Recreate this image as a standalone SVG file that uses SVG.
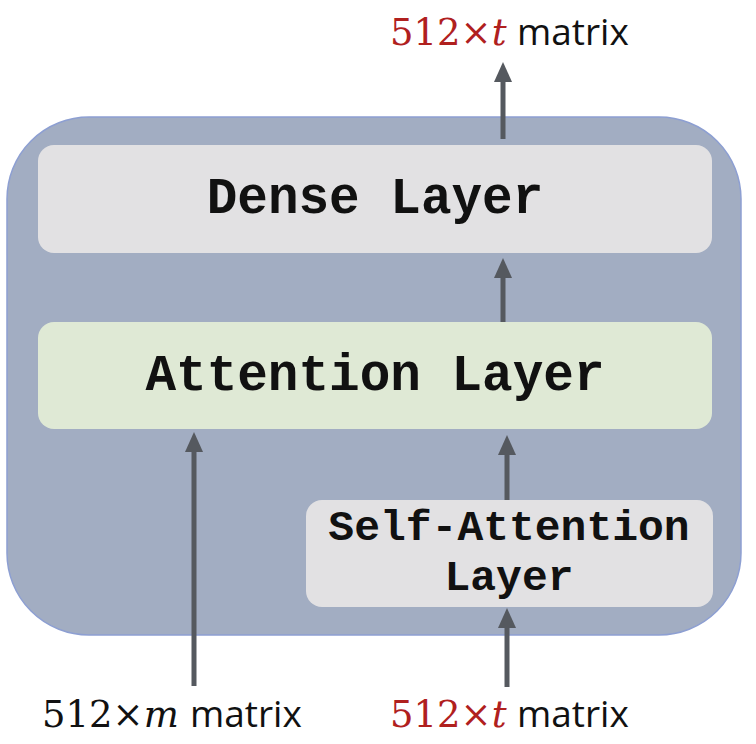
<svg xmlns="http://www.w3.org/2000/svg" width="756" height="744" viewBox="0 0 756 744">
<style>
.box{fill:#e2e1e3}
.green{fill:#dfe9d5}
.lbl{font-family:"Liberation Mono","Courier New",monospace;font-weight:bold;fill:#111;text-anchor:middle}
.edge{stroke:#55595f;stroke-width:5;fill:none}
.num{font-family:"DejaVu Serif",serif;font-size:37px}
.it{font-style:italic}
.word{font-family:"Open Sans","Liberation Sans",sans-serif;font-size:37px;fill:#111}
</style>
<defs>
<marker id="ah" markerUnits="userSpaceOnUse" markerWidth="20" markerHeight="18" refX="2" refY="9" orient="auto">
<path d="M0,0 L20,9 L0,18 z" fill="#55595f"/>
</marker>
</defs>
<rect x="0" y="0" width="756" height="744" fill="#ffffff"/>
<g id="container">
<rect x="7" y="117" width="734" height="518" rx="82" ry="82" fill="#a2adc2" stroke="#8d9fd2" stroke-width="1.5"/>
</g>
<g id="dense">
<rect class="box" x="38" y="145" width="674" height="108" rx="16"/>
<text class="lbl" x="375" y="213" font-size="51">Dense Layer</text>
</g>
<g id="attention">
<rect class="green" x="38" y="322" width="674" height="107" rx="16"/>
<text class="lbl" x="375" y="390" font-size="51">Attention Layer</text>
</g>
<g id="selfattention">
<rect class="box" x="306" y="500" width="407" height="107" rx="16"/>
<text class="lbl" x="509" y="540" font-size="43">Self-Attention</text>
<text class="lbl" x="509" y="590" font-size="43">Layer</text>
</g>
<g id="connectors">
<line class="edge" x1="503" y1="139" x2="503" y2="80" marker-end="url(#ah)"/>
<line class="edge" x1="503" y1="322" x2="503" y2="276" marker-end="url(#ah)"/>
<line class="edge" x1="507" y1="500" x2="507" y2="453" marker-end="url(#ah)"/>
<line class="edge" x1="194" y1="686" x2="194" y2="450" marker-end="url(#ah)"/>
<line class="edge" x1="507" y1="687" x2="507" y2="626" marker-end="url(#ah)"/>
</g>
<g id="label-top">
<text y="45"><tspan class="num" x="390" fill="#b0201e">512×</tspan><tspan class="num it" fill="#b0201e">t</tspan><tspan class="word" x="517">matrix</tspan></text>
</g>
<g id="label-bottom-left">
<text y="727"><tspan class="num" x="42" fill="#111">512×</tspan><tspan class="num it" fill="#111">m</tspan><tspan class="word" x="190">matrix</tspan></text>
</g>
<g id="label-bottom-right">
<text y="727"><tspan class="num" x="390" fill="#b0201e">512×</tspan><tspan class="num it" fill="#b0201e">t</tspan><tspan class="word" x="517">matrix</tspan></text>
</g>
</svg>
